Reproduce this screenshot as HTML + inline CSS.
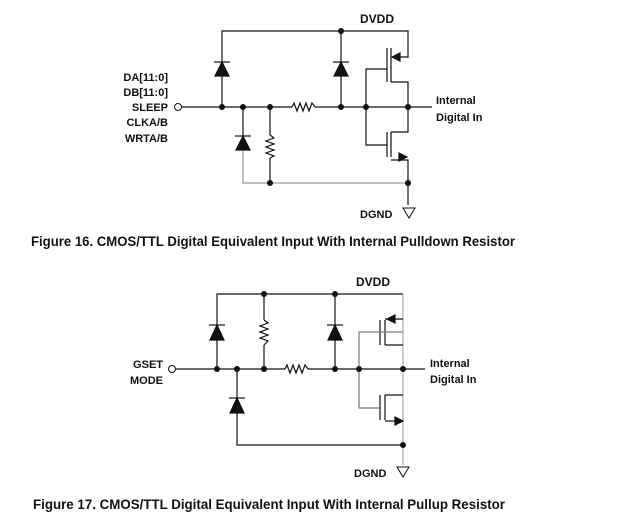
<!DOCTYPE html>
<html><head><style>
html,body{margin:0;padding:0;background:#fff;}
svg{display:block;}
text{font-family:"Liberation Sans",Arial,sans-serif;font-weight:bold;fill:#111;}
</style></head><body>
<svg width="620" height="526" viewBox="0 0 620 526" xmlns="http://www.w3.org/2000/svg">
<g stroke="#111" stroke-width="1.2" fill="none">
<!-- Figure 16 -->
<polyline points="222,107 222,31 408,31 408,57 394,57"/>
<line x1="341" y1="31" x2="341" y2="107"/>
<line x1="181" y1="107" x2="292" y2="107"/>
<polyline points="292,107 294,103 297,111 300,103 303,111 306,103 309,111 312,103 315,107"/>
<line x1="315" y1="107" x2="432" y2="107"/>
<line x1="243" y1="107" x2="243" y2="136"/>
<polyline points="243,150 243,183 408,183" stroke="#999"/>
<line x1="270" y1="107" x2="270" y2="135"/>
<polyline points="270,135 274,138 266,141 274,144 266,147 274,150 266,153 274,156 270,158"/>
<line x1="270" y1="158" x2="270" y2="183"/>
<!-- PMOS -->
<line x1="391" y1="48" x2="391" y2="82"/>
<line x1="387" y1="48" x2="387" y2="82"/>
<polyline points="391,82 408,82 408,132 391,132"/>
<polyline points="366,107 366,69 387,69"/>
<polyline points="366,107 366,145 387,145"/>
<line x1="391" y1="132" x2="391" y2="157"/>
<line x1="387" y1="132" x2="387" y2="157"/>
<polyline points="391,160 408,160 408,205"/>
<!-- Figure 17 -->
<polyline points="217,369 217,294 403,294"/>
<line x1="264" y1="294" x2="264" y2="320"/>
<polyline points="264,320 268,323 260,326 268,329 260,332 268,335 260,338 268,341 264,345"/>
<line x1="264" y1="345" x2="264" y2="369"/>
<line x1="335" y1="294" x2="335" y2="369"/>
<line x1="175" y1="369" x2="285" y2="369"/>
<polyline points="285,369 287,365 290,373 293,365 296,373 299,365 302,373 305,365 308,369"/>
<line x1="308" y1="369" x2="425" y2="369"/>
<line x1="237" y1="369" x2="237" y2="398"/>
<polyline points="237,413 237,445 403,445"/>
<line x1="403" y1="294" x2="403" y2="465" stroke="#aaa"/>
<line x1="385" y1="320" x2="385" y2="345"/>
<line x1="380" y1="320" x2="380" y2="345"/>
<line x1="385" y1="319" x2="403" y2="319"/>
<line x1="385" y1="345" x2="403" y2="345"/>
<polyline points="403,332 380,332 359,332 359,408 380,408" stroke="#777"/>
<line x1="385" y1="395" x2="385" y2="420"/>
<line x1="380" y1="395" x2="380" y2="420"/>
<line x1="385" y1="395" x2="403" y2="395"/>
<line x1="385" y1="421" x2="395" y2="421"/>
</g>
<g fill="#111" stroke="#111" stroke-width="1.2">
<polygon points="222,62 215,76 229,76"/><line x1="214" y1="62" x2="230" y2="62"/>
<polygon points="341,62 334,76 348,76"/><line x1="333" y1="62" x2="349" y2="62"/>
<polygon points="243,136 236,150 250,150"/><line x1="235" y1="136" x2="251" y2="136"/>
<polygon points="392,57 400,53 400,61"/>
<polygon points="407,157 399,153 399,161"/>
<polygon points="217,325 210,340 224,340"/><line x1="209" y1="325" x2="225" y2="325"/>
<polygon points="335,325 328,340 342,340"/><line x1="327" y1="325" x2="343" y2="325"/>
<polygon points="237,398 230,413 244,413"/><line x1="229" y1="398" x2="245" y2="398"/>
<polygon points="387,319 395,315 395,323"/>
<polygon points="403,421 395,417 395,425"/>
</g>
<g fill="#111">
<circle cx="341" cy="31" r="3"/>
<circle cx="222" cy="107" r="3"/><circle cx="243" cy="107" r="3"/><circle cx="270" cy="107" r="3"/>
<circle cx="341" cy="107" r="3"/><circle cx="366" cy="107" r="3"/><circle cx="408" cy="107" r="3"/>
<circle cx="270" cy="183" r="3"/><circle cx="408" cy="183" r="3"/>
<circle cx="264" cy="294" r="3"/><circle cx="335" cy="294" r="3"/>
<circle cx="217" cy="369" r="3"/><circle cx="237" cy="369" r="3"/><circle cx="264" cy="369" r="3"/>
<circle cx="335" cy="369" r="3"/><circle cx="359" cy="369" r="3"/><circle cx="403" cy="369" r="3"/>
<circle cx="403" cy="445" r="3"/>
</g>
<g fill="#fff" stroke="#111" stroke-width="1">
<circle cx="178" cy="107" r="3.5"/>
<circle cx="172" cy="369" r="3.5"/>
<polygon points="403,208 415,208 409,218"/>
<polygon points="397,467 409,467 403,477"/>
</g>
<text x="360" y="23" font-size="12">DVDD</text>
<text x="168" y="81" font-size="11" text-anchor="end">DA[11:0]</text>
<text x="168" y="96" font-size="11" text-anchor="end">DB[11:0]</text>
<text x="168" y="111" font-size="11" text-anchor="end">SLEEP</text>
<text x="168" y="126" font-size="11" text-anchor="end">CLKA/B</text>
<text x="168" y="142" font-size="11" text-anchor="end">WRTA/B</text>
<text x="436" y="104" font-size="11">Internal</text>
<text x="436" y="121" font-size="11">Digital In</text>
<text x="360" y="218" font-size="11">DGND</text>
<text x="31" y="246" font-size="14" textLength="484" lengthAdjust="spacingAndGlyphs">Figure 16. CMOS/TTL Digital Equivalent Input With Internal Pulldown Resistor</text>
<text x="356" y="286" font-size="12">DVDD</text>
<text x="163" y="368" font-size="11" text-anchor="end">GSET</text>
<text x="163" y="384" font-size="11" text-anchor="end">MODE</text>
<text x="430" y="367" font-size="11">Internal</text>
<text x="430" y="383" font-size="11">Digital In</text>
<text x="354" y="477" font-size="11">DGND</text>
<text x="33" y="509" font-size="14" textLength="472" lengthAdjust="spacingAndGlyphs">Figure 17. CMOS/TTL Digital Equivalent Input With Internal Pullup Resistor</text>
</svg>
</body></html>
